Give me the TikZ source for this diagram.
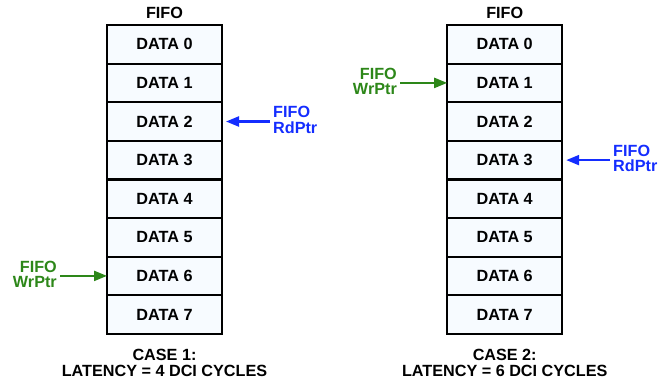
\documentclass[tikz,border=0pt]{standalone}
\usepackage{fontspec}
\setmainfont{Liberation Sans}
\usetikzlibrary{arrows.meta}
\definecolor{cellfill}{RGB}{247,251,255}
\definecolor{rdblue}{RGB}{20,45,255}
\definecolor{wrgreen}{RGB}{45,135,25}
\tikzset{
  cell/.style={draw=black, line width=2.2pt, fill=cellfill, minimum width=115pt, minimum height=38.6pt, inner sep=0pt, outer sep=0pt, font=\txt},
  ttl/.style={inner sep=0pt, font=\txt},
  captxt/.style={inner sep=0pt, align=center, font=\txt},
  rdlab/.style={text=rdblue, align=left, inner sep=3pt, font=\txt, anchor=west},
  wrlab/.style={text=wrgreen, align=right, inner sep=3pt, font=\txt, anchor=east},
  rdarrow/.style={draw=rdblue, line width=2.2pt, -{Triangle[length=13pt,width=10pt]}},
  wrarrow/.style={draw=wrgreen, line width=2.2pt, -{Triangle[length=13pt,width=10pt]}},
}
\newcommand{\txt}{\fontsize{16.2}{15.5}\selectfont\bfseries}
\begin{document}
\begin{tikzpicture}[x=1pt,y=-1pt]
\useasboundingbox (0,0) rectangle (671,381);
% left column
\node[ttl] (t1) at (164.5,13) {FIFO};
\foreach \i in {0,...,7}{
  \node[cell] (a\i) at (164.5,{25+38.6*(\i+0.5)}) {DATA \i};
}
\node[captxt] (c1) at (164.5,363) {CASE 1:\\LATENCY = 4 DCI CYCLES};
% right column
\node[ttl] (t2) at (504.7,13) {FIFO};
\foreach \i in {0,...,7}{
  \node[cell] (b\i) at (504.7,{25+38.6*(\i+0.5)}) {DATA \i};
}
\node[captxt] (c2) at (504.7,363) {CASE 2:\\LATENCY = 6 DCI CYCLES};
% pointers case 1
\node[rdlab] (rd1) at (270,120) {FIFO\\RdPtr};
\draw[rdarrow, shorten >=4pt] (rd1.west |- a2.east) -- (a2.east);
\node[wrlab] (wr1) at (60,274.5) {FIFO\\WrPtr};
\draw[wrarrow] (wr1.east |- a6.west) -- (a6.west);
% pointers case 2
\node[wrlab] (wr2) at (400,81.5) {FIFO\\WrPtr};
\draw[wrarrow] (wr2.east |- b1.west) -- (b1.west);
\node[rdlab] (rd2) at (610,158.5) {FIFO\\RdPtr};
\draw[rdarrow, shorten >=4pt] (rd2.west |- b3.east) -- (b3.east);
\end{tikzpicture}
\end{document}
